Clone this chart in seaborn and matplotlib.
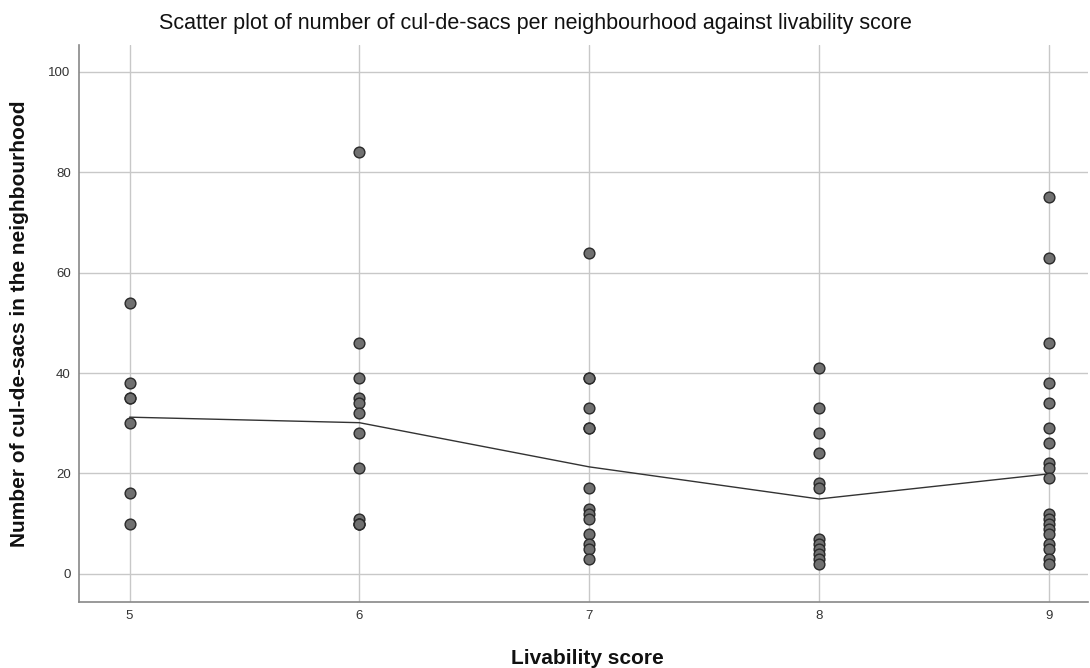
import numpy as np
import pandas as pd
import matplotlib
matplotlib.use("Agg")
import matplotlib.pyplot as plt
import seaborn as sns

# values
score_5 = [54, 38, 35, 35, 30, 16, 10]
score_6 = [84, 46, 39, 35, 34, 32, 28, 21, 11, 10, 10, 10]
score_7 = [64, 39, 39, 33, 29, 29, 17, 13, 12, 11, 8, 6, 5, 3]
score_8 = [41, 33, 28, 24, 18, 17, 7, 6, 5, 4, 3, 2]
score_9 = [75, 63, 46, 38, 34, 29, 26, 22, 21, 19, 12, 11, 10, 9, 8, 6, 5, 3, 2]

fit_x = [5, 6, 7, 8, 9]
fit_y = [31.2, 30.1, 21.3, 14.9, 19.9]

groups = {5: score_5, 6: score_6, 7: score_7, 8: score_8, 9: score_9}
df = pd.DataFrame(
    [(k, v) for k, vals in groups.items() for v in vals],
    columns=["livability", "culdesacs"])
fit = pd.DataFrame({"livability": fit_x, "culdesacs": fit_y})

sns.set_style("white")
plt.rcParams["font.family"] = ["Liberation Sans", "DejaVu Sans"]

fig = plt.figure(figsize=(10.9, 6.68), dpi=100)
ax = fig.add_axes([0.0725, 0.099, 0.9255, 0.834])

ax.grid(True, color="#c8c8c8", linewidth=1)
ax.set_axisbelow(True)

sns.lineplot(data=fit, x="livability", y="culdesacs", color="#333333",
             linewidth=1, ax=ax, zorder=2)
sns.scatterplot(data=df, x="livability", y="culdesacs", color="#707070",
                edgecolor="#2a2a2a", linewidth=1, s=60, ax=ax, zorder=3)

ax.set_xlim(4.78, 9.17)
ax.set_ylim(-5.6, 105.4)
ax.set_xticks([5, 6, 7, 8, 9])
ax.set_yticks([0, 20, 40, 60, 80, 100])
ax.tick_params(axis="both", labelsize=9.5, length=0, pad=6, colors="#333333")

for side in ["top", "right"]:
    ax.spines[side].set_visible(False)
for side in ["left", "bottom"]:
    ax.spines[side].set_color("#888888")
    ax.spines[side].set_linewidth(1.2)

ax.set_xlabel("Livability score", fontsize=15, fontweight="bold", color="#111111")
ax.set_ylabel("Number of cul-de-sacs in the neighbourhood", fontsize=15,
              fontweight="bold", color="#111111")
ax.xaxis.set_label_coords(0.504, -0.084)
ax.yaxis.set_label_coords(-0.05, 0.5)
fig.suptitle("Scatter plot of number of cul-de-sacs per neighbourhood against livability score",
             fontsize=15.5, x=0.491, y=0.98, color="#111111")

fig.savefig("out.png", dpi=100)
